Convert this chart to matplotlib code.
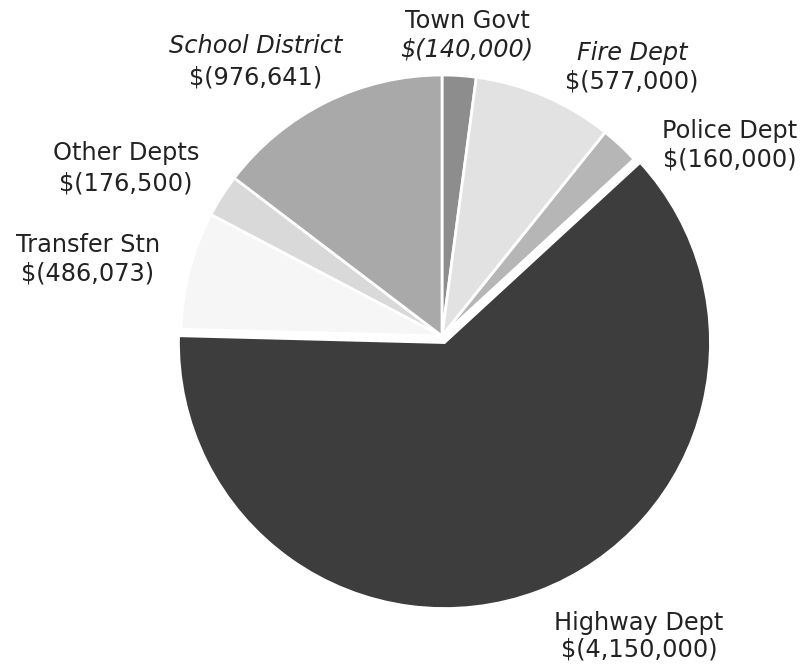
"""Budget pie: spending by department, labelled with name and amount."""

import matplotlib

matplotlib.use("Agg")
import matplotlib.pyplot as plt

W, H = 803, 667

departments = [
    "Town Govt",
    "Fire Dept",
    "Police Dept",
    "Highway Dept",
    "Transfer Stn",
    "Other Depts",
    "School District",
]
amounts = [140000, 577000, 160000, 4150000, 486073, 176500, 976641]
shades = ["#8d8d8d", "#e2e2e2", "#b6b6b6", "#3d3d3d", "#f6f6f6", "#d9d9d9", "#a9a9a9"]

# label placement in pixels from the top-left: centre x, baseline of each line
label_x = [467, 632, 730, 639, 88, 126, 256]
label_y = [(28, 57), (60, 88), (138, 167), (630, 657), (252, 281), (160, 191), (53, 84)]
# which line is set in oblique type (name, amount)
oblique = [(False, True), (True, False), (False, False), (False, False),
           (False, False), (False, False), (True, False)]

fig = plt.figure(figsize=(W / 100, H / 100), dpi=100)
ax = fig.add_axes([0, 0, 1, 1])

cx, cy, r = 442, H - 336, 261
# pie() offsets exploded wedges in data units, here pixels
explode = [7 if d == "Highway Dept" else 0 for d in departments]
wedges, _ = ax.pie(
    amounts,
    colors=shades,
    startangle=90,
    counterclock=False,
    center=(cx, cy),
    radius=r,
    explode=explode,
    wedgeprops=dict(edgecolor="white", linewidth=2),
)
# the big slice sits a touch larger than the rest
wedges[departments.index("Highway Dept")].set_radius(266)

ax.set_xlim(0, W)
ax.set_ylim(0, H)
ax.set_aspect("equal")
ax.axis("off")

for name, amt, x, (y1, y2), (it1, it2) in zip(departments, amounts, label_x, label_y, oblique):
    ax.text(x, H - y1, name, ha="center", va="baseline", fontsize=17.3,
            color="#222222", style="italic" if it1 else "normal")
    ax.text(x, H - y2, f"$({amt:,})", ha="center", va="baseline", fontsize=17.3,
            color="#222222", style="italic" if it2 else "normal")

fig.savefig("out.png", dpi=100)
plt.close(fig)
